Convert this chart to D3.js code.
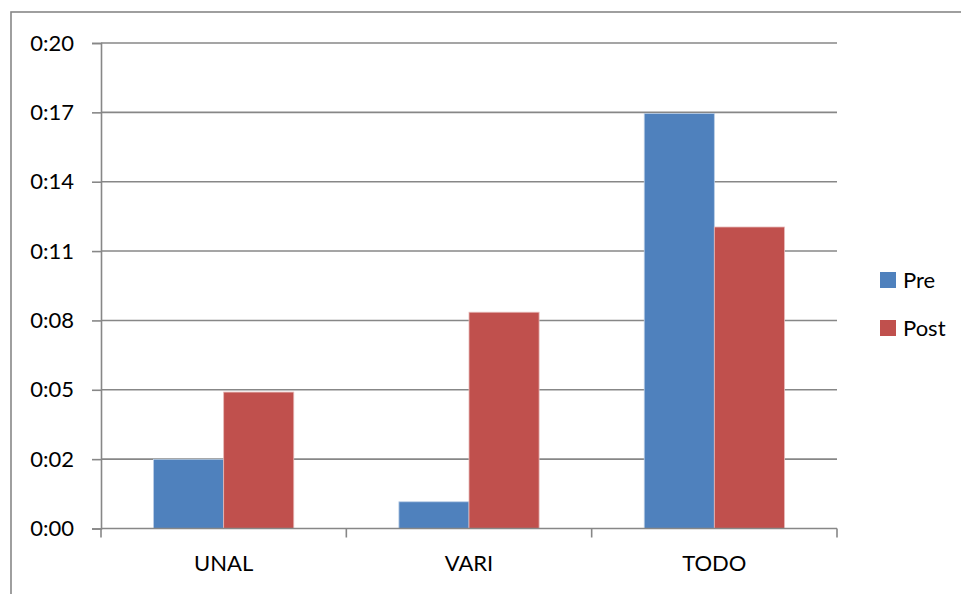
<!DOCTYPE html>
<html>
<head>
<meta charset="utf-8">
<script src="https://cdn.jsdelivr.net/npm/d3@7/dist/d3.min.js"></script>
<style>
  html, body { margin: 0; padding: 0; background: #fff; }
  svg text { font-family: Lato, "Open Sans", sans-serif; fill: #000; }
</style>
</head>
<body>
<svg id="chart" width="961" height="594"></svg>
<script>
// Times in minutes
const categories = ["UNAL", "VARI", "TODO"];
const seriesNames = ["Pre", "Post"];
const preValues = [2.85, 1.10, 17.10];
const postValues = [5.62, 8.91, 12.42];
const seriesColors = ["#4F81BD", "#C0504D"];
const seriesEdges = ["#B9CDE5", "#E6B9B8"];
const yTickLabels = ["0:00", "0:02", "0:05", "0:08", "0:11", "0:14", "0:17", "0:20"];
const yMax = 20;

const svg = d3.select("#chart");
const plot = { left: 101, right: 837, top: 43, bottom: 528.5 };
const gridColor = "#878787";

// Outer chart frame (runs off the right and bottom edges)
svg.append("rect")
  .attr("x", 11).attr("y", 12)
  .attr("width", 1100).attr("height", 1000)
  .attr("fill", "none")
  .attr("stroke", gridColor)
  .attr("stroke-width", 1.6);

const y = d3.scaleLinear().domain([0, yMax]).range([plot.bottom, plot.top]);
const tickValues = yTickLabels.map((_, i) => i * yMax / (yTickLabels.length - 1));

const x0 = d3.scaleBand().domain(categories).range([plot.left, plot.right]).padding(0);
const x1 = d3.scaleBand().domain(seriesNames).range([0, x0.bandwidth()])
  .paddingInner(0).paddingOuter(0.75);

// Horizontal gridlines
svg.append("g").selectAll("line")
  .data(tickValues.slice(1))
  .join("line")
  .attr("x1", plot.left).attr("x2", plot.right)
  .attr("y1", d => y(d)).attr("y2", d => y(d))
  .attr("stroke", gridColor).attr("stroke-width", 1.6);

// Bars
const rows = categories.map((c, i) => ({ cat: c, vals: [preValues[i], postValues[i]] }));
const groups = svg.append("g").selectAll("g")
  .data(rows)
  .join("g")
  .attr("transform", d => `translate(${x0(d.cat)},0)`);

groups.selectAll("rect")
  .data(d => d.vals.map((v, j) => ({ s: seriesNames[j], v, j })))
  .join("rect")
  .attr("x", d => x1(d.s))
  .attr("width", x1.bandwidth())
  .attr("y", d => y(d.v))
  .attr("height", d => y(0) - y(d.v))
  .attr("fill", d => seriesColors[d.j])
  .attr("stroke", d => seriesEdges[d.j])
  .attr("stroke-width", 0.8);

// Y axis
const yAxis = d3.axisLeft(y)
  .tickValues(tickValues)
  .tickFormat((d, i) => yTickLabels[i])
  .tickSize(9)
  .tickPadding(18);
const gy = svg.append("g")
  .attr("transform", `translate(${plot.left},0)`)
  .call(yAxis);
gy.select(".domain").attr("stroke", gridColor).attr("stroke-width", 1.6);
gy.selectAll(".tick line").attr("stroke", gridColor).attr("stroke-width", 1.6);
gy.selectAll(".tick text")
  .style("font-size", "22px")
  .style("font-family", "Lato, 'Open Sans', sans-serif")
  .attr("fill", "#000");

// X axis baseline and boundary ticks
svg.append("line")
  .attr("x1", plot.left).attr("x2", plot.right)
  .attr("y1", y(0)).attr("y2", y(0))
  .attr("stroke", gridColor).attr("stroke-width", 1.6);

const boundaries = categories.map(c => x0(c)).concat([x0(categories[categories.length - 1]) + x0.bandwidth()]);
svg.append("g").selectAll("line")
  .data(boundaries)
  .join("line")
  .attr("x1", d => d).attr("x2", d => d)
  .attr("y1", y(0)).attr("y2", y(0) + 9)
  .attr("stroke", gridColor).attr("stroke-width", 1.6);

svg.append("g").selectAll("text")
  .data(categories)
  .join("text")
  .attr("x", d => x0(d) + x0.bandwidth() / 2)
  .attr("y", 571)
  .attr("text-anchor", "middle")
  .style("font-size", "22px")
  .text(d => d);

// Legend
const legend = svg.append("g").selectAll("g")
  .data(seriesNames)
  .join("g")
  .attr("transform", (d, i) => `translate(880,${272 + i * 48})`);
legend.append("rect")
  .attr("width", 16).attr("height", 16)
  .attr("fill", (d, i) => seriesColors[i]);
legend.append("text")
  .attr("x", 23).attr("y", 16)
  .style("font-size", "22px")
  .text(d => d);
</script>
</body>
</html>
